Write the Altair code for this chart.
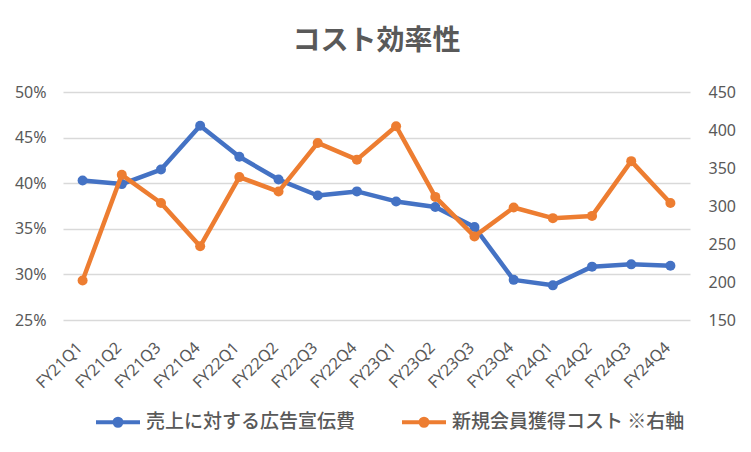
import altair as alt
import pandas as pd

quarters = ["FY21Q1", "FY21Q2", "FY21Q3", "FY21Q4",
            "FY22Q1", "FY22Q2", "FY22Q3", "FY22Q4",
            "FY23Q1", "FY23Q2", "FY23Q3", "FY23Q4",
            "FY24Q1", "FY24Q2", "FY24Q3", "FY24Q4"]
ad_ratio = [0.403, 0.399, 0.415, 0.463, 0.429, 0.404, 0.3865, 0.391,
            0.380, 0.374, 0.352, 0.294, 0.288, 0.3085, 0.311, 0.3095]
acq_cost = [202, 341, 304, 247, 338, 319, 383, 361,
            405, 312, 260, 298, 284, 287, 359, 304]
series_names = ["売上に対する広告宣伝費", "新規会員獲得コスト ※右軸"]
series_colors = ["#4472C4", "#ED7D31"]
left_ticks = [0.25, 0.30, 0.35, 0.40, 0.45, 0.50]
right_ticks = [150, 200, 250, 300, 350, 400, 450]

df = pd.DataFrame({"q": quarters, "ad": ad_ratio, "cost": acq_cost})

GRAY = "#595959"
LATIN = "Noto Sans"
CJK = "Noto Sans CJK JP"

legend_path = ("M-1,0H1"
               "M0.091,0A0.091,0.091,0,1,1,-0.091,0A0.091,0.091,0,1,1,0.091,0"
               "M0.159,0A0.159,0.159,0,1,1,-0.159,0A0.159,0.159,0,1,1,0.159,0")

color_enc = alt.Color(
    "series:N",
    scale=alt.Scale(domain=series_names, range=series_colors),
    legend=alt.Legend(
        title=None, orient="none", direction="horizontal",
        legendX=31, legendY=306, padding=0,
        symbolType=legend_path, symbolSize=1936, symbolStrokeWidth=4,
        labelFont=CJK, labelFontSize=19, labelFontWeight=500, labelColor=GRAY,
        labelOffset=4, columnPadding=38, labelLimit=400,
    ),
)

x_enc = alt.X(
    "q:N", sort=quarters, title=None,
    scale=alt.Scale(type="point", padding=0.5),
    axis=alt.Axis(labelAngle=-45, ticks=False, domain=False, grid=False,
                  labelFont=LATIN, labelFontSize=16, labelColor=GRAY,
                  labelPadding=19, labelOffset=-9),
)

left_axis = alt.Axis(format=".0%", values=left_ticks, grid=True,
                     gridColor="#d9d9d9", gridWidth=1.3, domain=False, ticks=False,
                     labelFont=LATIN, labelFontSize=16, labelColor=GRAY,
                     labelPadding=17, title=None)
right_axis = alt.Axis(orient="right", values=right_ticks, grid=False,
                      domain=False, ticks=False,
                      labelFont=LATIN, labelFontSize=16, labelColor=GRAY,
                      labelPadding=18, title=None)

y_left = alt.Y("ad:Q", scale=alt.Scale(domain=[0.25, 0.50]), axis=left_axis)
y_right = alt.Y("cost:Q", scale=alt.Scale(domain=[150, 450]), axis=right_axis)

base = alt.Chart(df)

blue_line = base.transform_calculate(series=f"'{series_names[0]}'").mark_line(
    strokeWidth=4.5, strokeJoin="round").encode(x=x_enc, y=y_left, color=color_enc)
blue_pts = base.mark_circle(size=100, opacity=1).encode(
    x=x_enc, y=y_left, color=alt.value(series_colors[0]))

orange_line = base.transform_calculate(series=f"'{series_names[1]}'").mark_line(
    strokeWidth=4.5, strokeJoin="round").encode(x=x_enc, y=y_right, color=color_enc)
orange_pts = base.mark_circle(size=100, opacity=1).encode(
    x=x_enc, y=y_right, color=alt.value(series_colors[1]))

left = alt.layer(blue_line, blue_pts)
right = alt.layer(orange_line, orange_pts)

chart = alt.layer(left, right).resolve_scale(y="independent").properties(
    width=627, height=228,
    autosize=alt.AutoSizeParams(type="none"),
    padding={"left": 55, "top": 84, "right": 53, "bottom": 124},
    title=alt.TitleParams("コスト効率性", font=CJK, fontSize=28, fontWeight="bold",
                          color=GRAY, anchor="middle", offset=28),
    background="white",
).configure_view(stroke=None)

chart.save("out.html", embed_options={"renderer": "svg", "actions": False})
